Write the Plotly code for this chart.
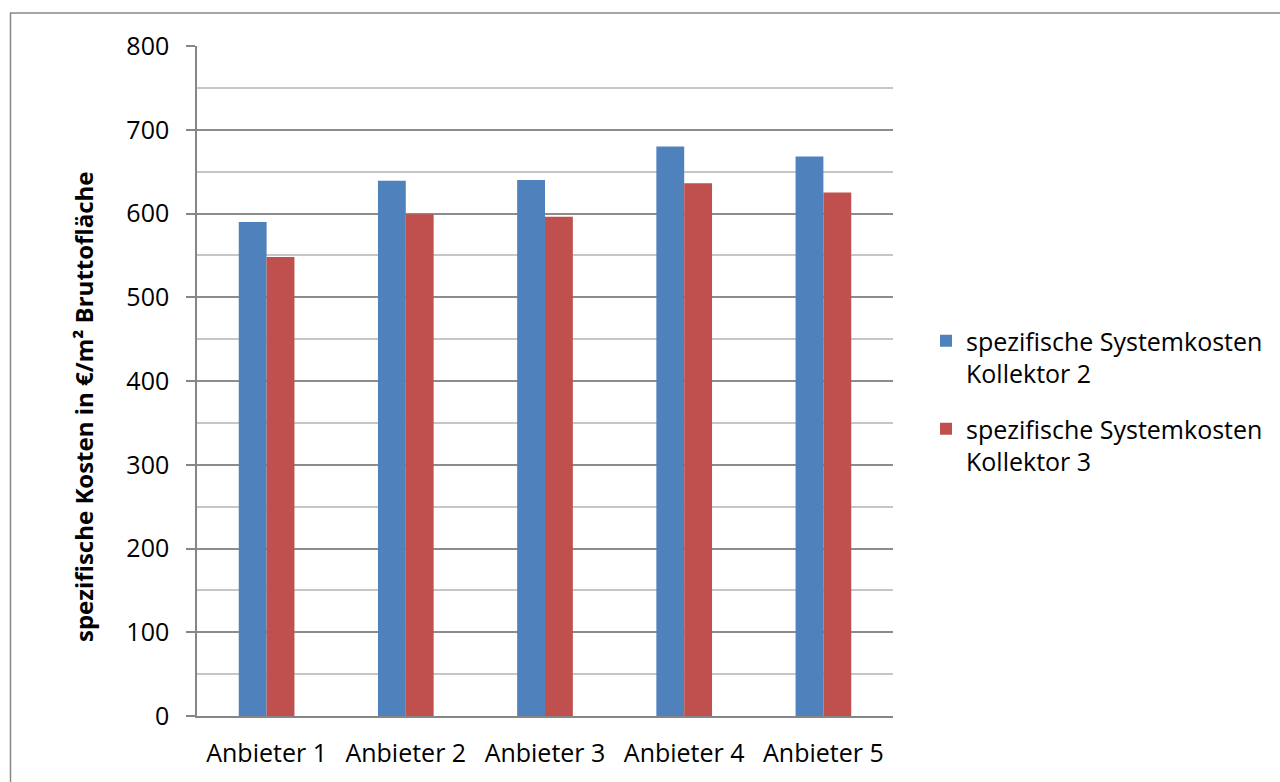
import plotly.graph_objects as go

categories = ["Anbieter 1", "Anbieter 2", "Anbieter 3", "Anbieter 4", "Anbieter 5"]
kollektor2 = [590, 639, 640, 680, 668]
kollektor3 = [548, 599, 596, 636, 625]
series_names = ["spezifische Systemkosten<br>Kollektor 2", "spezifische Systemkosten<br>Kollektor 3"]
y_title = "spezifische Kosten in €/m² Bruttofläche"

FONT = "Open Sans"
FS = 25

fig = go.Figure()
fig.add_trace(go.Bar(x=categories, y=kollektor2, name=series_names[0], legendgroup="a",
                     marker=dict(color="#4F81BD", line=dict(width=0))))
fig.add_trace(go.Bar(x=categories, y=kollektor3, name=series_names[1], legendgroup="b",
                     marker=dict(color="#C0504D", line=dict(width=0))))

W, H = 1280, 782
L, R, T, B = 197, 387, 46, 66
pw, ph = W - L - R, H - T - B

fig.update_layout(
    width=W, height=H,
    margin=dict(l=L, r=R, t=T, b=B, pad=0),
    paper_bgcolor="white", plot_bgcolor="white",
    barmode="group", bargap=0.6, bargroupgap=0,
    font=dict(family=FONT, size=FS, color="black"),
    legend=dict(x=(926 - 197) / pw, y=(716 - 318) / ph, xanchor="left", yanchor="top",
                font=dict(family=FONT, size=FS, color="black"), valign="top",
                tracegroupgap=20, itemsizing="constant", bgcolor="rgba(0,0,0,0)"),
    showlegend=True,
    xaxis=dict(showline=True, linecolor="#868686", linewidth=1.5, ticks="",
               tickfont=dict(family=FONT, size=FS), showgrid=False, ticklabelstandoff=14),
    yaxis=dict(range=[0, 800], dtick=100, tick0=0, showline=True, linecolor="#868686",
               linewidth=1.5, ticks="outside", ticklen=9, tickcolor="#868686", tickwidth=1.5,
               showgrid=True, gridcolor="#8c8c8c", gridwidth=1.5, zeroline=False,
               minor=dict(dtick=50, showgrid=True, gridcolor="#c6c6c6", gridwidth=1.5, ticks=""),
               tickfont=dict(family=FONT, size=FS), ticklabelstandoff=12),
    annotations=[dict(text="<b>" + y_title + "</b>", textangle=-90, showarrow=False,
                      xref="paper", yref="paper", x=(83 - L) / pw, y=(716 - 407) / ph,
                      xanchor="center", yanchor="middle",
                      font=dict(family=FONT, size=24, color="black"))],
    shapes=[dict(type="rect", xref="paper", yref="paper",
                 x0=(10.5 - L) / pw, x1=(1300 - L) / pw,
                 y0=(716 - 800) / ph, y1=(716 - 13) / ph,
                 line=dict(color="#888888", width=1.5), fillcolor="rgba(0,0,0,0)", layer="below")],
)

fig.write_html("out.html")
